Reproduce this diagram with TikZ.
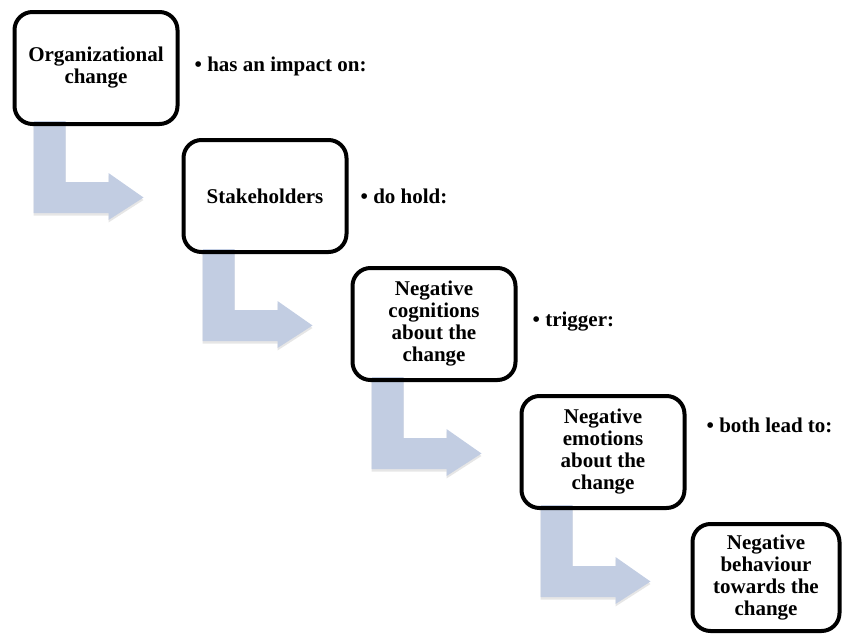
\documentclass[tikz,border=0pt]{standalone}
\usepackage{fontspec}
\setmainfont{Liberation Serif}
\usetikzlibrary{positioning,shadows,backgrounds}
\definecolor{arrowblue}{RGB}{194,205,226}

\begin{document}
\begin{tikzpicture}[x=1pt,y=-1pt,
	box/.style={rectangle,rounded corners=18pt,draw,line width=4pt,minimum width=163pt,minimum height=112pt,align=center,font=\fontsize{21}{22}\selectfont\bfseries},
	note/.style={inner sep=0pt,font=\fontsize{21}{22}\selectfont\bfseries},
	block arrow/.style={fill=arrowblue,drop shadow={shadow xshift=0pt,shadow yshift=-2.5pt,opacity=0.2}}]

	\useasboundingbox (0,0) rectangle (843,637);

	\node[box] (0) at (96,68) {Organizational\\change};
	\node[box] (1) [below right=12pt and 2pt of 0] {Stakeholders};
	\node[box] (2) [below right=12pt and 2pt of 1] {Negative\\cognitions\\about the\\change};
	\node[box] (3) [below right=12pt and 2pt of 2] {Negative\\emotions\\about the\\change};
	\node[box,minimum width=147pt,minimum height=107pt] (4) [below right=12pt and 4pt of 3] {Negative\\behaviour\\towards the\\change};

	\node[note] (n0) [right=15pt of 0,yshift=2pt] {• has an impact on:};
	\node[note] (n1) [right=12pt of 1] {• do hold:};
	\node[note] (n2) [right=15pt of 2,yshift=2pt] {• trigger:};
	\node[note] (n3) [right=20pt of 3,yshift=27pt] {• both lead to:};

	\begin{scope}[on background layer]
	\foreach \i in {0,...,3}
		\fill[block arrow,shift={(\i.south west)}] (21,-5) -- (53,-5) -- (53,56) -- (96,56) -- (96,47)
			-- (131,71.5) -- (96,94) -- (96,87) -- (21,87) -- cycle;
	\end{scope}
\end{tikzpicture}
\end{document}
